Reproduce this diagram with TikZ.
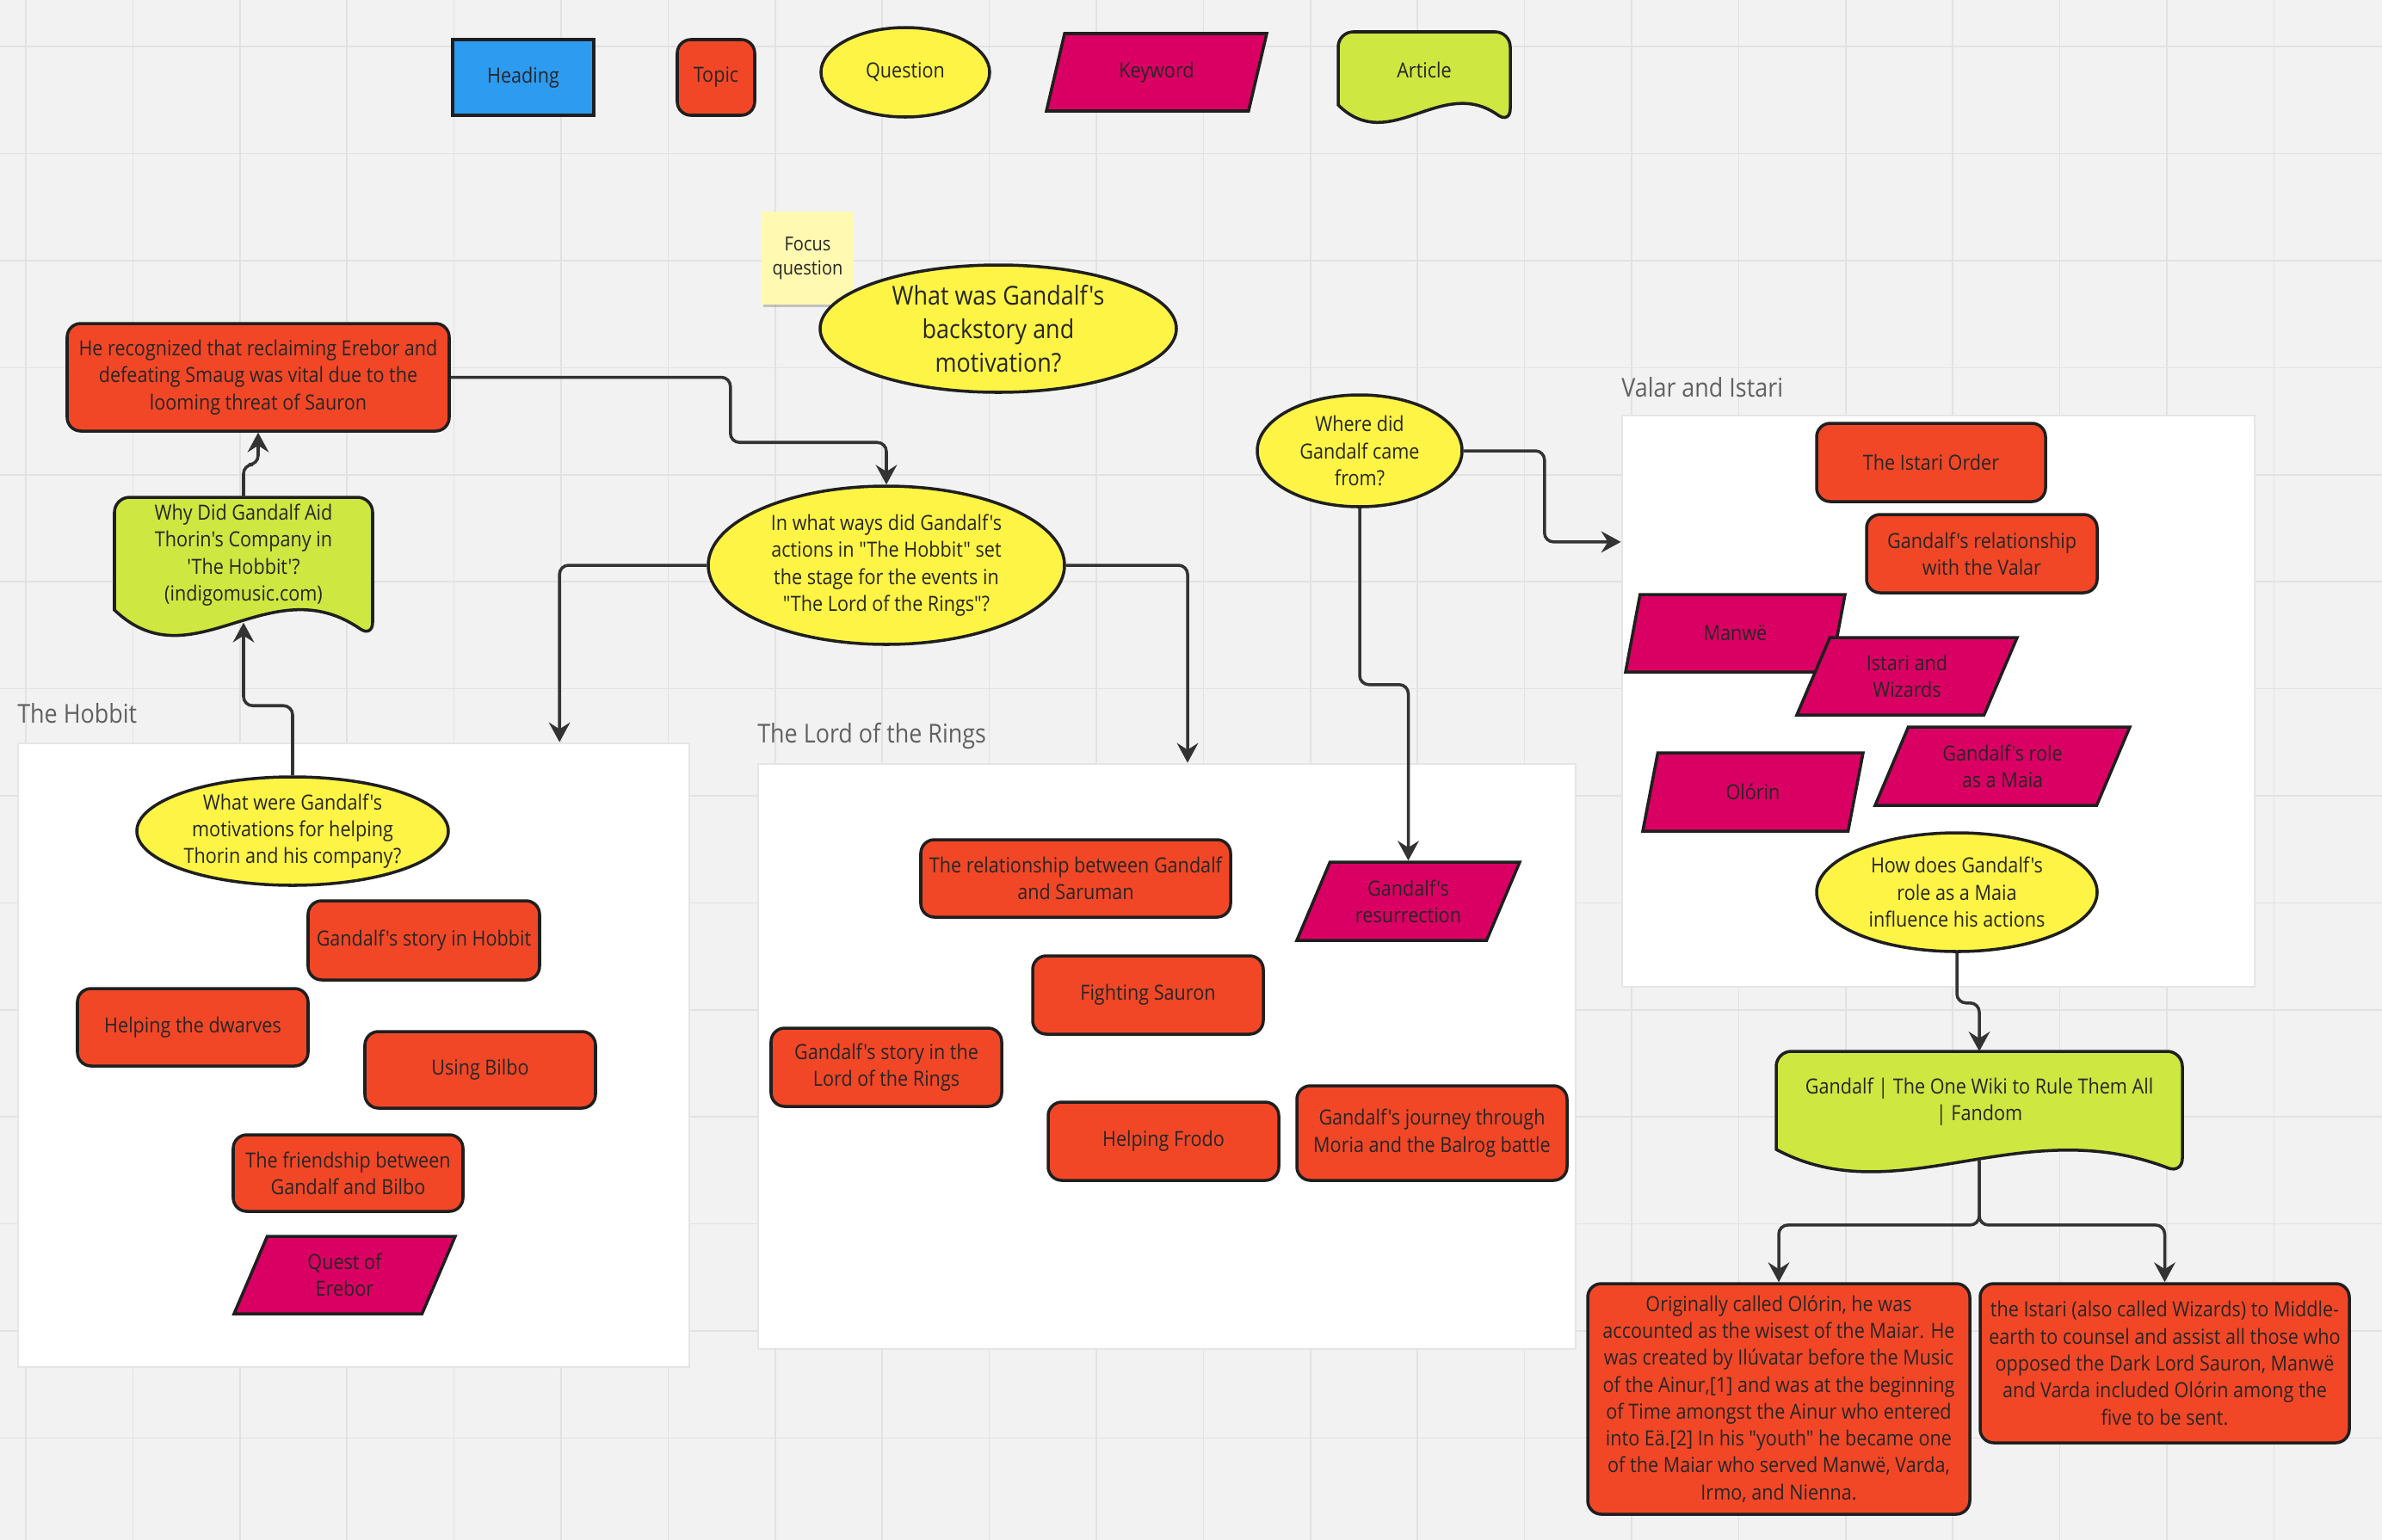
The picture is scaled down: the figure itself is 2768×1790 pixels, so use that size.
\documentclass[tikz,border=0pt]{standalone}
\usepackage{fontspec}
\setmainfont{Open Sans}[Ligatures=TeXOff, FakeStretch=0.89]
\usetikzlibrary{shapes.geometric,arrows.meta,calc,shadows}

\definecolor{canvas}{HTML}{F2F2F2}
\definecolor{gridgray}{HTML}{E2E2E2}
\definecolor{headblue}{HTML}{2D9BF0}
\definecolor{topicred}{HTML}{F24726}
\definecolor{qyellow}{HTML}{FEF445}
\definecolor{kwpink}{HTML}{DA0063}
\definecolor{artlime}{HTML}{CEE741}
\definecolor{stickyyellow}{HTML}{FFF9B1}
\definecolor{linkgray}{HTML}{333333}

\tikzset{
  sz/.style 2 args={minimum width=#1*0.01cm, minimum height=#2*0.01cm},
  shapebase/.style={draw=black!88, line width=1pt, text=black!85, align=center,
    font=\fontsize{6.9}{8.9}\selectfont, inner sep=1pt},
  heading/.style={shapebase, rectangle, fill=headblue},
  topic/.style={shapebase, rectangle, rounded corners=4.5pt, fill=topicred},
  question/.style={shapebase, ellipse, fill=qyellow, inner sep=0pt},
  keyword/.style={shapebase, trapezium, trapezium left angle=56,
    trapezium right angle=124, trapezium stretches body, fill=kwpink},
  arttext/.style={shapebase, draw=none, rectangle},
  artshape/.style={draw=black!88, line width=1pt, fill=artlime},
  frame/.style={draw=black!10, line width=0.8pt, fill=white},
  frametitle/.style={anchor=west, inner sep=0pt, text=black!62,
    font=\fontsize{8.6}{10}\selectfont},
  sticky/.style={fill=stickyyellow, align=center, text=black!85,
    font=\fontsize{6.4}{8}\selectfont,
    general shadow={fill=black, opacity=0.2, shadow yshift=-1.3pt, shadow scale=0.97}},
  gridline/.style={draw=gridgray, line width=0.5pt},
  link/.style={draw=linkgray, line width=1pt, rounded corners=3pt,
    -{Stealth[length=6.5pt,width=7pt,inset=2.2pt]}},
}

\newcommand{\artnode}[7]{%
  \filldraw[artshape] ({#2-#4/2},{#3+#5}) [rounded corners=5pt] -- ({#2-#4/2},#3)
    -- ({#2+#4/2},#3) -- ({#2+#4/2},{#3+#5+#6}) [sharp corners]
    .. controls ({#2+0.1*#4},{#3+#5-1.6*#6}) and ({#2-0.2*#4},{#3+#5+2.7*#6})
    .. ({#2-#4/2},{#3+#5}) -- cycle;
  \node[arttext, sz={#4}{#5}, anchor=north] (#1) at (#2,#3) {#7};
  \coordinate (#1-wave) at (#2,{#3+#5+0.46*#6});
}

\begin{document}
\begin{tikzpicture}[x=0.01cm, y=-0.01cm]

	\fill[canvas] (0,0) rectangle (2768,1790);
	\useasboundingbox (0,0) rectangle (2768,1790);
	\foreach \i in {0,...,21} \draw[gridline] ({30+124.4*\i},0) -- ({30+124.4*\i},1790);
	\foreach \j in {0,...,14} \draw[gridline] (0,{54.2+124.4*\j}) -- (2768,{54.2+124.4*\j});

	\node[frame, sz={780}{725}] (hobbit) at (411,1226.5) {};
	\node[frame, sz={950}{680}] (lotr) at (1356,1228) {};
	\node[frame, sz={735}{664}] (valar) at (2252.5,815) {};
	\node[frametitle] (hobbittitle) at ($(hobbit.north west)+(0,-33)$) {The Hobbit};
	\node[frametitle] (lotrtitle) at ($(lotr.north west)+(0,-31)$) {The Lord of the Rings};
	\node[frametitle] (valartitle) at ($(valar.north west)+(0,-31)$) {Valar and Istari};

	\node[heading, sz={164}{88}] (legheading) at (608,90) {Heading};
	\node[topic, sz={90}{88}] (legtopic) at (832,90) {Topic};
	\node[question, sz={196}{104}] (legquestion) at (1052,84) {Question};
	\node[keyword, sz={256}{90}] (legkeyword) at (1344,84) {Keyword};
	\artnode{legarticle}{1655}{37}{200}{85}{22}{Article}

	\node[sticky, sz={107}{108}] (focus) at (938.5,300) {Focus\\question};
	\node[question, sz={414}{148}, font=\fontsize{8.6}{11}\selectfont] (mainq) at (1160,382)
		{What was Gandalf's\\backstory and\\motivation?};
	\node[topic, sz={444}{125}] (herec) at (300,438.5)
		{He recognized that reclaiming Erebor and\\defeating Smaug was vital due to the\\looming threat of Sauron};
	\artnode{why}{283}{578}{300}{131}{32}{Why Did Gandalf Aid\\Thorin's Company in\\'The Hobbit'?\\(indigomusic.com)}
	\node[question, sz={414}{184}] (inwhat) at (1030,657)
		{In what ways did Gandalf's\\actions in "The Hobbit" set\\the stage for the events in\\"The Lord of the Rings"?};
	\node[question, sz={238}{130}] (where) at (1580,524) {Where did\\Gandalf came\\from?};

	\node[question, sz={362}{126}, inner sep=-3pt] (whatwere) at (340,966)
		{What were Gandalf's\\motivations for helping\\Thorin and his company?};
	\node[topic, sz={269}{92}] (storyhobbit) at (492.5,1093) {Gandalf's story in Hobbit};
	\node[topic, sz={268}{90}] (dwarves) at (224,1194) {Helping the dwarves};
	\node[topic, sz={268}{89}] (bilbo) at (558,1243.5) {Using Bilbo};
	\node[topic, sz={267}{89}] (friendship) at (404.5,1363.5) {The friendship between\\Gandalf and Bilbo};
	\node[keyword, sz={257}{90}] (erebor) at (400.5,1482) {Quest of\\Erebor};

	\node[topic, sz={360}{90}] (saruman) at (1250,1021) {The relationship between Gandalf\\and Saruman};
	\node[keyword, sz={259}{91}] (resurrection) at (1636.5,1047.5) {Gandalf's\\resurrection};
	\node[topic, sz={268}{91}] (sauron) at (1334,1156.5) {Fighting Sauron};
	\node[topic, sz={268}{91}] (storylotr) at (1030,1240.5) {Gandalf's story in the\\Lord of the Rings};
	\node[topic, sz={268}{91}] (frodo) at (1352,1326.5) {Helping Frodo};
	\node[topic, sz={314}{110}] (moria) at (1664,1317) {Gandalf's journey through\\Moria and the Balrog battle};

	\node[topic, sz={266}{91}] (istariorder) at (2244,537.5) {The Istari Order};
	\node[topic, sz={268}{91}] (valarrel) at (2303,643.5) {Gandalf's relationship\\with the Valar};
	\node[keyword, sz={255}{90}] (manwe) at (2016.5,736) {Manwë};
	\node[keyword, sz={256}{90}] (wizards) at (2216,786) {Istari and\\Wizards};
	\node[keyword, sz={256}{91}] (olorin) at (2037,920.5) {Olórin};
	\node[keyword, sz={296}{91}] (maia) at (2327,890.5) {Gandalf's role\\as a Maia};
	\node[question, sz={326}{138}] (howdoes) at (2274,1037) {How does Gandalf's\\role as a Maia\\influence his actions};

	\artnode{fandom}{2300}{1222}{472}{114}{28}{Gandalf | The One Wiki to Rule Them All\\| Fandom}
	\node[topic, sz={444}{268}] (origin) at (2067,1626)
		{Originally called Olórin, he was\\accounted as the wisest of the Maiar. He\\was created by Ilúvatar before the Music\\of the Ainur,[1] and was at the beginning\\of Time amongst the Ainur who entered\\into Eä.[2] In his "youth" he became one\\of the Maiar who served Manwë, Varda,\\Irmo, and Nienna.};
	\node[topic, sz={429}{185}] (istarisent) at (2515.5,1584.5)
		{the Istari (also called Wizards) to Middle-\\earth to counsel and assist all those who\\opposed the Dark Lord Sauron, Manwë\\and Varda included Olórin among the\\five to be sent.};

	\draw[link] (whatwere.north) -- ++(0,-81) -| (why-wave);
	\draw[link] (why.north) -- ++(0,-38) -| (herec.south);
	\draw[link] (herec.east) -- ++(325,0) |- ($(inwhat.north)+(0,-49)$) -- (inwhat.north);
	\draw[link] (inwhat.west) -| ([xshift=2.39cm]hobbit.north);
	\draw[link] (inwhat.east) -| ([xshift=0.24cm]lotr.north);
	\draw[link] (where.south) -- ++(0,205) -| (resurrection.north);
	\draw[link] (where.east) -- ++(94,0) |- ([yshift=1.85cm]valar.west);
	\draw[link] (howdoes.south) -- ++(0,58) -| (fandom.north);
	\draw[link] (fandom-wave) -- ++(0,75) -| (origin.north);
	\draw[link] (fandom-wave) -- ++(0,75) -| (istarisent.north);
\end{tikzpicture}
\end{document}
